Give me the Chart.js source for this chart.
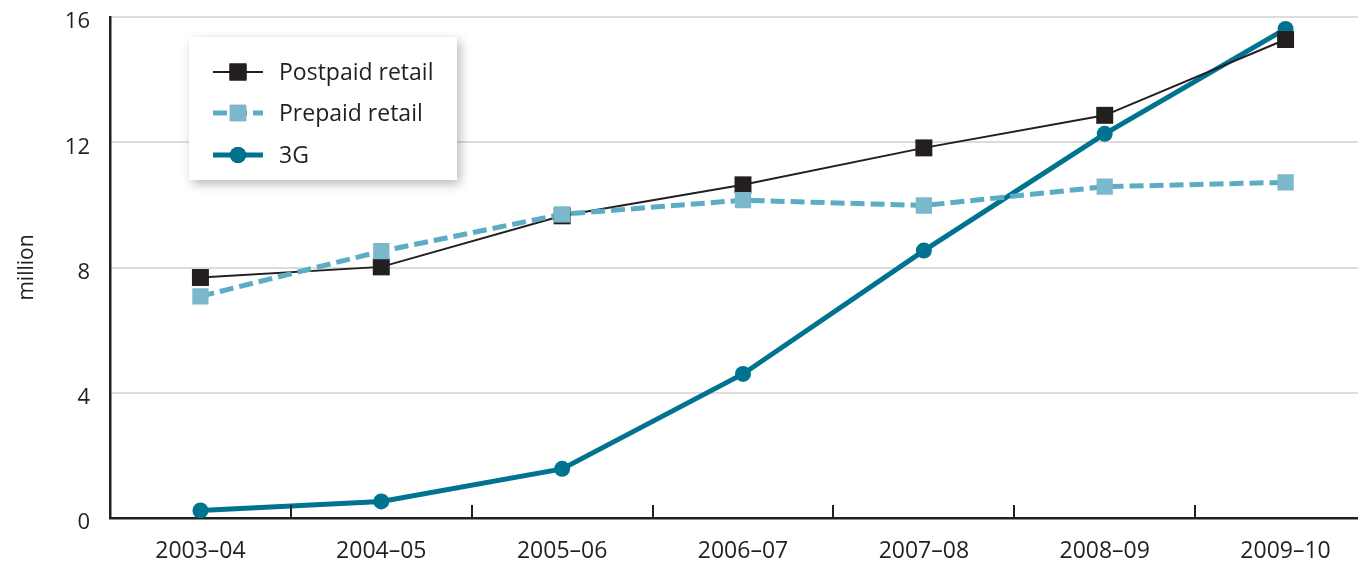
<!DOCTYPE html>
<html>
<head>
<meta charset="utf-8">
<script src="https://cdn.jsdelivr.net/npm/chart.js@4.4.1/dist/chart.umd.min.js"></script>
<style>
  html, body { margin: 0; padding: 0; background: #fff; overflow: hidden; }
  #wrap { position: relative; width: 1388px; height: 566px; }
</style>
</head>
<body>
<div id="wrap"><canvas id="subsChart"></canvas></div>
<script>
// financial years on the x axis
var years = ['2003–04', '2004–05', '2005–06', '2006–07', '2007–08', '2008–09', '2009–10'];
// services in operation, million
var postpaid = [7.68, 8.02, 9.65, 10.64, 11.82, 12.86, 15.28];
var prepaid = [7.08, 8.52, 9.7, 10.15, 9.98, 10.58, 10.72];
var threeG = [0.24, 0.53, 1.57, 4.6, 8.54, 12.27, 15.62];
var yTicks = [0, 4, 8, 12, 16];

var FONT = '"Open Sans", "Noto Sans", sans-serif';
var INK = '#231f20';

// legend box drawn on the canvas, line + marker like the original
var boxLegend = {
    id: 'boxLegend',
    afterDraw: function(chart) {
        var ctx = chart.ctx;
        var x = 189, y = 37, w = 268, h = 143;
        ctx.save();
        ctx.shadowColor = 'rgba(0,0,0,0.28)';
        ctx.shadowBlur = 10;
        ctx.shadowOffsetX = 3;
        ctx.shadowOffsetY = 4;
        ctx.fillStyle = '#fff';
        ctx.fillRect(x, y, w, h);
        ctx.restore();

        var legendOrder = [0, 1, 2];
        var rowY = [72, 113, 155];
        ctx.save();
        legendOrder.forEach(function(i) {
            var ds = chart.data.datasets[i];
            var cy = rowY[i];
            ctx.strokeStyle = ds.borderColor;
            ctx.lineWidth = ds.borderWidth;
            ctx.setLineDash(ds.borderDash || []);
            ctx.lineCap = 'butt';
            ctx.beginPath();
            ctx.moveTo(213, cy);
            ctx.lineTo(263, cy);
            ctx.stroke();
            ctx.setLineDash([]);
            Chart.helpers.drawPoint(ctx, {
                pointStyle: ds.pointStyle,
                radius: ds.pointRadius,
                rotation: 0,
                borderWidth: 0
            }, 238, cy);
            ctx.fillStyle = ds.pointBackgroundColor;
            ctx.fill();
            ctx.fillStyle = INK;
            ctx.font = '23px ' + FONT;
            ctx.textBaseline = 'middle';
            ctx.textAlign = 'left';
            ctx.fillText(ds.label, 279, cy + 1);
        });
        ctx.restore();
    }
};

// small upward tick marks between categories on the x axis
var betweenTicks = {
    id: 'betweenTicks',
    afterDatasetsDraw: function(chart) {
        var xs = chart.scales.x;
        var bottom = chart.chartArea.bottom;
        var ctx = chart.ctx;
        ctx.save();
        ctx.strokeStyle = INK;
        ctx.lineWidth = 2;
        for (var i = 0; i < years.length - 1; i++) {
            var px = Math.round((xs.getPixelForValue(i) + xs.getPixelForValue(i + 1)) / 2);
            ctx.beginPath();
            ctx.moveTo(px, bottom);
            ctx.lineTo(px, bottom - 13);
            ctx.stroke();
        }
        ctx.restore();
    }
};

var ctx = document.getElementById('subsChart').getContext('2d');
var subsChart = new Chart(ctx, {
    type: 'line',
    data: {
        labels: years,
        datasets: [{
            label: 'Postpaid retail',
            data: postpaid,
            borderColor: INK,
            borderWidth: 2,
            pointStyle: 'rect',
            pointRadius: 12,
            pointBackgroundColor: INK,
            pointBorderWidth: 0,
            order: 1
        }, {
            label: 'Prepaid retail',
            data: prepaid,
            borderColor: '#5cacc5',
            borderWidth: 5,
            borderDash: [14, 6],
            pointStyle: 'rect',
            pointRadius: 11.5,
            pointBackgroundColor: '#7ab8cb',
            pointBorderWidth: 0,
            order: 0
        }, {
            label: '3G',
            data: threeG,
            borderColor: '#007391',
            borderWidth: 5,
            pointStyle: 'circle',
            pointRadius: 8,
            pointBackgroundColor: '#007391',
            pointBorderWidth: 0,
            order: 2
        }]
    },
    options: {
        responsive: true,
        maintainAspectRatio: false,
        animation: false,
        layout: { padding: { top: 17, right: 2, left: 0, bottom: 0 } },
        plugins: {
            legend: { display: false },
            tooltip: { enabled: false }
        },
        scales: {
            x: {
                offset: true,
                grid: { display: false },
                border: { color: INK, width: 2.5 },
                ticks: {
                    color: INK,
                    font: { family: FONT, size: 23 },
                    padding: 12,
                    maxRotation: 0
                },
                afterFit: function(scale) { scale.height = 48; }
            },
            y: {
                min: 0,
                max: 16,
                afterBuildTicks: function(scale) {
                    scale.ticks = yTicks.map(function(v) { return { value: v }; });
                },
                grid: {
                    color: function(c) { return c.tick.value === 0 ? 'rgba(0,0,0,0)' : '#dcdcdc'; },
                    lineWidth: 2,
                    drawTicks: false
                },
                border: { color: INK, width: 2.5 },
                ticks: {
                    color: INK,
                    font: { family: FONT, size: 22 },
                    padding: 20,
                    labelOffset: 5
                },
                title: {
                    display: true,
                    text: 'million',
                    color: INK,
                    font: { family: FONT, size: 21 },
                    padding: { top: 14, bottom: 0 }
                },
                afterFit: function(scale) {
                    scale.width = 110;
                    scale.paddingTop = 0;
                    scale.paddingBottom = 0;
                }
            }
        }
    },
    plugins: [betweenTicks, boxLegend]
});
</script>
</body>
</html>
